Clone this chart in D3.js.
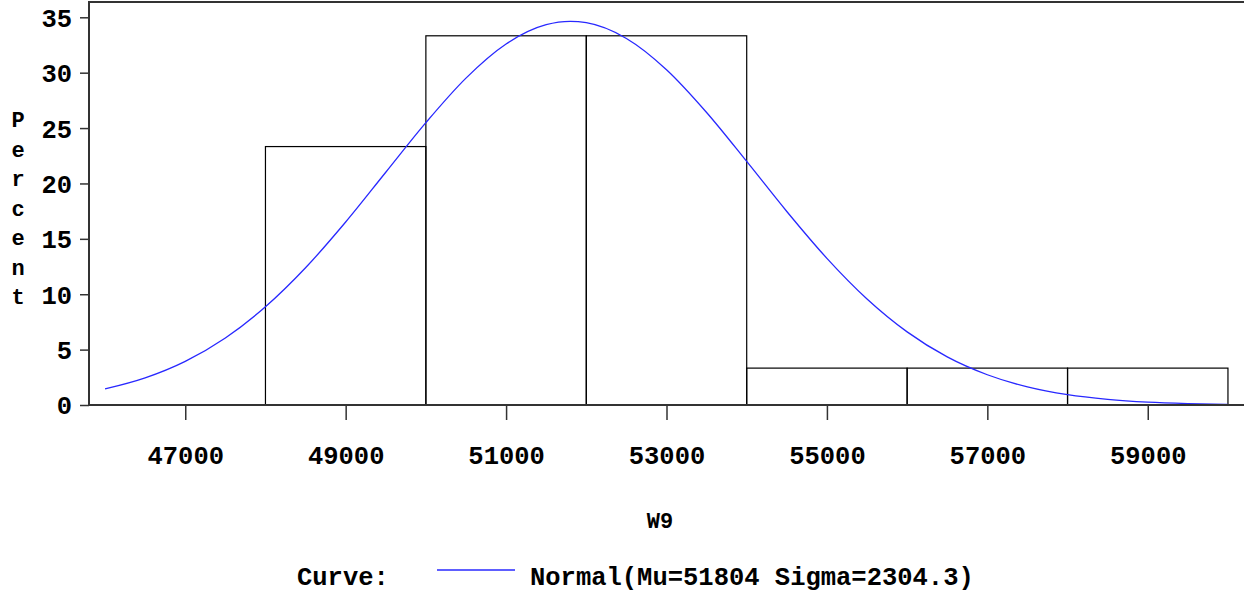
<!DOCTYPE html>
<html>
  <head>
    <meta charset="utf-8">
    <title>W9 histogram</title>
    <script src="https://d3js.org/d3.v7.min.js"></script>
    <style>
      body { margin: 0; background: #fff; }
      text { font-family: "Liberation Mono", "Courier New", monospace; font-weight: bold; fill: #000; }
    </style>
  </head>
  <body>
    <div id="grafico"></div>
    <script>
      // bins (lower edge, upper edge) and percent per bin
      const binStart = [48000, 50000, 52000, 54000, 56000, 58000]
      const binEnd   = [50000, 52000, 54000, 56000, 58000, 60000]
      const percent  = [23.33, 33.33, 33.33, 3.33, 3.33, 3.33]

      // fitted normal curve
      const curveX = [46000, 46500, 47000, 47500, 48000, 48500, 49000, 49500, 50000, 50500,
                      51000, 51500, 51800, 52000, 52500, 53000, 53500, 54000, 54500, 55000,
                      55500, 56000, 56500, 57000, 57500, 58000, 58500, 59000, 59500, 60000]
      const curveY = [1.45, 2.45, 3.94, 6.05, 8.87, 12.39, 16.52, 21.01, 25.49, 29.51,
                      32.59, 34.33, 34.63, 34.51, 33.09, 30.27, 26.41, 21.99, 17.47, 13.24,
                      9.57, 6.60, 4.34, 2.73, 1.63, 0.93, 0.51, 0.26, 0.13, 0.06]

      const xTicks = [47000, 49000, 51000, 53000, 55000, 57000, 59000]
      const yTicks = [0, 5, 10, 15, 20, 25, 30, 35]

      const largura = 1244, altura = 598
      const svg = d3.select('#grafico').append('svg')
        .attr('width', largura).attr('height', altura)

      const x = d3.scaleLinear().domain([45800, 60200]).range([89, 1244])
      const y = d3.scaleLinear().domain([0, 35]).range([405, 17.3])
      const topo = 2

      // bars
      svg.append('g').selectAll('rect')
        .data(percent)
        .join('rect')
          .attr('x', (d, i) => x(binStart[i]))
          .attr('y', d => y(d))
          .attr('width', (d, i) => x(binEnd[i]) - x(binStart[i]))
          .attr('height', d => y(0) - y(d))
          .attr('fill', 'none')
          .attr('stroke', '#000')
          .attr('stroke-width', 1.2)

      // curve
      const linha = d3.line()
        .x((d, i) => x(curveX[i]))
        .y(d => y(d))
        .curve(d3.curveMonotoneX)
      svg.append('path')
        .attr('d', linha(curveY))
        .attr('fill', 'none')
        .attr('stroke', '#2828ff')
        .attr('stroke-width', 1.3)

      // axes
      const eixoX = svg.append('g')
        .attr('transform', `translate(0, ${y(0)})`)
        .call(d3.axisBottom(x).tickValues(xTicks).tickSize(15).tickPadding(26).tickFormat(d3.format('d')))
      const eixoY = svg.append('g')
        .attr('transform', `translate(${x.range()[0]}, 0)`)
        .call(d3.axisLeft(y).tickValues(yTicks).tickSize(9).tickPadding(8))

      ;[eixoX, eixoY].forEach(e => {
        e.select('.domain').remove()
        e.selectAll('line').attr('stroke', '#333').attr('stroke-width', 1.5)
        e.selectAll('text').attr('font-size', 25.5).attr('font-family', null)
      })
      eixoY.selectAll('text').attr('dy', '0.35em')

      // frame
      svg.append('path')
        .attr('d', `M${largura},${topo}H89V${y(0)}H${largura}`)
        .attr('fill', 'none')
        .attr('stroke', '#333')
        .attr('stroke-width', 2)

      // y label, stacked letters
      svg.append('g').selectAll('text')
        .data('Percent'.split(''))
        .join('text')
          .attr('x', 18)
          .attr('y', (d, i) => 127 + i * 29.5)
          .attr('text-anchor', 'middle')
          .attr('font-size', 22)
          .text(d => d)

      svg.append('text')
        .attr('x', 660).attr('y', 528)
        .attr('text-anchor', 'middle')
        .attr('font-size', 22)
        .text('W9')

      // legend
      svg.append('text').attr('x', 297).attr('y', 585).attr('font-size', 25.5).text('Curve:')
      svg.append('line')
        .attr('x1', 437).attr('x2', 515).attr('y1', 570).attr('y2', 570)
        .attr('stroke', '#2828ff').attr('stroke-width', 1.3)
      svg.append('text').attr('x', 530).attr('y', 585).attr('font-size', 25.5)
        .text('Normal(Mu=51804 Sigma=2304.3)')
    </script>
  </body>
</html>
